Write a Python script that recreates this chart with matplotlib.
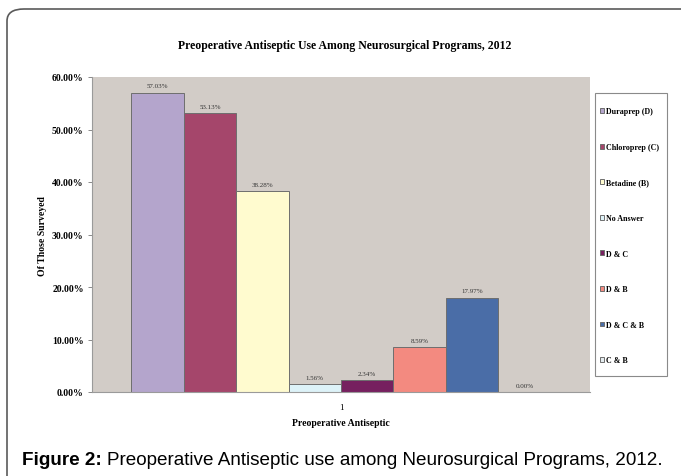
import matplotlib
matplotlib.use("Agg")
import matplotlib.pyplot as plt
from matplotlib.patches import FancyBboxPatch, Rectangle
import numpy as np

categories = ["1"]
series_names = ["Duraprep (D)", "Chloroprep (C)", "Betadine (B)", "No Answer",
                "D & C", "D & B", "D & C & B", "C & B"]
series_values = [57.03, 53.13, 38.28, 1.56, 2.34, 8.59, 17.97, 0.00]
series_colors = ["#B4A5CC", "#A5466B", "#FFFBCF", "#DDF2F8",
                 "#76205F", "#F38A80", "#4A6DA7", "#E4ECEF"]
y_ticks = [0, 10, 20, 30, 40, 50, 60]
y_tick_labels = ["0.00%", "10.00%", "20.00%", "30.00%", "40.00%", "50.00%", "60.00%"]

W, H = 681, 477
fig = plt.figure(figsize=(W / 100, H / 100), dpi=100)
fig.patch.set_facecolor("white")

serif = ["Liberation Serif", "DejaVu Serif"]
sans = ["Liberation Sans", "DejaVu Sans"]

# outer rounded frame
frame = FancyBboxPatch((7 / W, -0.2), (W + 30) / W, 1 - 10 / H + 0.2,
                       boxstyle="round,pad=0,rounding_size=0.025",
                       transform=fig.transFigure, fill=False,
                       edgecolor="#5a5a5a", linewidth=1.2, clip_on=False)
fig.patches.append(frame)

left, right, top, bottom = 92, 590, 78, 393
ax = fig.add_axes([left / W, 1 - bottom / H, (right - left) / W, (bottom - top) / H])
ax.set_facecolor("#D2CCC7")

n = len(series_values)
gap = 1.5
bw = 1.0 / (n + gap)
x0 = np.arange(len(categories))
handles = []
for i, (name, val, col) in enumerate(zip(series_names, series_values, series_colors)):
    xpos = x0 - 0.5 + bw * gap / 2 + bw * (i + 0.5)
    b = ax.bar(xpos, [val], width=bw, color=col, edgecolor="#6e6e6e",
               linewidth=0.7, label=name, zorder=2)
    handles.append(b)
    ax.text(xpos[0], val + 0.8, f"{val:.2f}%", ha="center", va="bottom",
            fontsize=5, family=serif, color="#333333")

ax.set_xlim(-0.5, 0.5)
ax.set_ylim(0, 60)
ax.set_xticks(x0)
ax.set_xticklabels(categories, fontsize=6.5, family=serif)
ax.set_yticks(y_ticks)
ax.set_yticklabels(y_tick_labels, fontsize=7, family=serif, fontweight="bold")
ax.tick_params(axis="y", length=3, width=0.7, color="#8a8a8a", pad=3)
ax.tick_params(axis="x", length=0, pad=8)
for s in ["top", "right"]:
    ax.spines[s].set_visible(False)
for s in ["left", "bottom"]:
    ax.spines[s].set_color("#9a9a9a")
    ax.spines[s].set_linewidth(0.8)

ax.set_xlabel("Preoperative Antiseptic", fontsize=7, family=serif, fontweight="bold")
ax.set_ylabel("Of Those Surveyed", fontsize=7, family=serif, fontweight="bold")
ax.yaxis.set_label_coords((47 - left) / (right - left), (bottom - 236) / (bottom - top))
ax.xaxis.set_label_coords((341 - left) / (right - left), -(419 - bottom) / (bottom - top))

fig.text(345 / W, 1 - 46 / H, "Preoperative Antiseptic Use Among Neurosurgical Programs, 2012",
         ha="center", va="center", fontsize=8.5, family=serif, fontweight="bold")

# legend box
fig.patches.append(Rectangle((595 / W, 1 - 377 / H), (667 - 595) / W, (377 - 94) / H,
                             transform=fig.transFigure, facecolor="white",
                             edgecolor="#8a8a8a", linewidth=0.8, zorder=1))
leg = fig.legend(handles=handles, labels=series_names, loc="upper left",
                 bbox_to_anchor=(600 / W, 1 - 108.5 / H),
                 prop={"family": serif, "weight": "bold", "size": 5.8},
                 frameon=False,
                 handlelength=0.55, handleheight=0.55, handletextpad=0.25,
                 labelspacing=3.42, borderpad=0, borderaxespad=0)
leg.set_zorder(3)

t1 = fig.text(22 / W, 1 - 461 / H, "Figure 2:", ha="left", va="center",
              fontsize=13.6, family=sans, fontweight="bold")
fig.canvas.draw()
bb = t1.get_window_extent()
fig.text(bb.x1 / W + 5 / W, 1 - 461 / H,
         "Preoperative Antiseptic use among Neurosurgical Programs, 2012.",
         ha="left", va="center", fontsize=13.6, family=sans)

fig.savefig("out.png", dpi=100, facecolor="white")
